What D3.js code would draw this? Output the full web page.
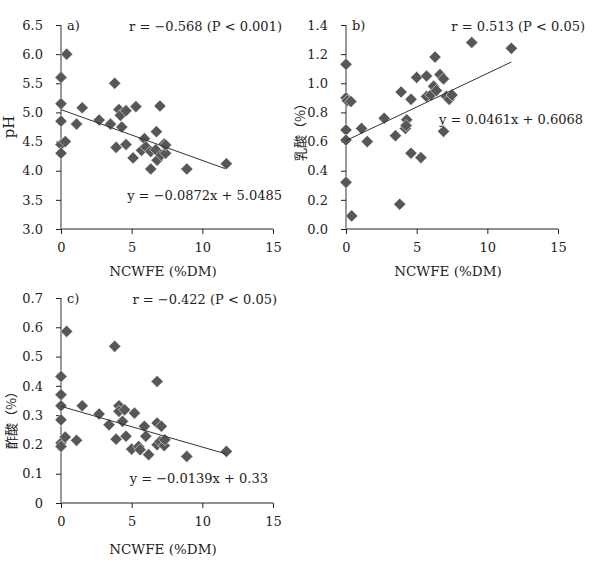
<!DOCTYPE html>
<html><head><meta charset="utf-8">
<script src="https://cdn.jsdelivr.net/npm/d3@7"></script>
<style>body{margin:0;background:#fff}svg{display:block}</style>
</head><body>
<svg id="c" width="594" height="574"></svg>
<script>
const xTicks = [0, 5, 10, 15];
const aTicks = [3.0, 3.5, 4.0, 4.5, 5.0, 5.5, 6.0, 6.5];
const bTicks = [0.0, 0.2, 0.4, 0.6, 0.8, 1.0, 1.2, 1.4];
const cTicks = [0, 0.1, 0.2, 0.3, 0.4, 0.5, 0.6, 0.7];

const aX = [0.4, 0, 0, 0, 0, 0, 0.3, 1.1, 1.5, 2.7, 3.5, 3.8, 3.9, 4.1, 4.2, 4.3, 4.6, 4.6, 5.1, 5.3, 5.9, 5.7, 6.0, 6.35, 6.35, 6.7, 6.75, 7.0, 6.8, 7.1, 7.3, 7.4, 7.4, 8.9, 11.7];
const aY = [6.0, 5.6, 5.15, 4.85, 4.45, 4.3, 4.5, 4.8, 5.08, 4.87, 4.8, 5.5, 4.4, 5.05, 4.95, 4.75, 5.03, 4.45, 4.22, 5.1, 4.55, 4.35, 4.41, 4.33, 4.03, 4.36, 4.67, 5.11, 4.18, 4.27, 4.46, 4.3, 4.44, 4.03, 4.12];

const bX = [0, 0, 0.1, 0.35, 0, 0, 0, 0.4, 1.1, 1.5, 2.7, 3.5, 3.9, 3.8, 4.2, 4.3, 4.25, 4.6, 4.6, 5.0, 5.3, 5.7, 5.7, 6.0, 6.3, 6.2, 6.4, 6.65, 6.9, 6.9, 7.1, 7.3, 7.5, 8.9, 11.7];
const bY = [1.13, 0.9, 0.88, 0.875, 0.68, 0.61, 0.32, 0.09, 0.69, 0.6, 0.76, 0.64, 0.94, 0.17, 0.69, 0.75, 0.71, 0.89, 0.52, 1.04, 0.49, 1.05, 0.91, 0.92, 1.18, 0.98, 0.95, 1.06, 1.03, 0.67, 0.91, 0.89, 0.92, 1.28, 1.24];

const cX = [0.4, 0, 0, 0, 0, 0, 0, 0.3, 1.1, 1.5, 2.7, 3.4, 3.8, 3.9, 4.1, 4.1, 4.35, 4.5, 4.6, 5.2, 5.0, 5.5, 5.6, 5.9, 6.0, 6.2, 6.8, 6.8, 7.1, 6.8, 7.0, 7.3, 7.35, 8.9, 11.7];
const cY = [0.586, 0.432, 0.37, 0.332, 0.284, 0.205, 0.193, 0.225, 0.214, 0.332, 0.304, 0.267, 0.535, 0.218, 0.332, 0.313, 0.279, 0.318, 0.228, 0.307, 0.184, 0.193, 0.182, 0.262, 0.228, 0.165, 0.415, 0.273, 0.262, 0.199, 0.21, 0.196, 0.216, 0.159, 0.176];

const panels = [
  {label:"a)", yTitle:"pH", xs:aX, ys:aY, ticks:aTicks, fmt:d3.format(".1f"), dom:[3,6.5],
   slope:-0.0872, icpt:5.0485, xEnd:11.6, rText:"r = \u22120.568 (P < 0.001)", eqText:"y = \u22120.0872x + 5.0485",
   x0:61, x1:273, yTop:25, yBot:229, rX:282, rY:31, eqX:282, eqY:200, titleX:14, titleY:127, cjk:false, xtOff:47},
  {label:"b)", yTitle:"乳酸（%）", xs:bX, ys:bY, ticks:bTicks, fmt:d3.format(".1f"), dom:[0,1.4],
   slope:0.0461, icpt:0.6068, xEnd:11.7, rText:"r = 0.513 (P < 0.05)", eqText:"y = 0.0461x + 0.6068",
   x0:346, x1:558, yTop:25, yBot:229, rX:585, rY:31, eqX:583, eqY:124, titleX:305, titleY:129, cjk:true, xtOff:47},
  {label:"c)", yTitle:"酢酸（%）", xs:cX, ys:cY, ticks:cTicks, fmt:d => d===0?"0":d3.format(".1f")(d), dom:[0,0.7],
   slope:-0.0139, icpt:0.33, xEnd:11.7, rText:"r = \u22120.422 (P < 0.05)", eqText:"y = \u22120.0139x + 0.33",
   x0:61, x1:273, yTop:298, yBot:503, rX:277, rY:304, eqX:268, eqY:483, titleX:16, titleY:417, cjk:true, xtOff:51}
];

const svg = d3.select("#c");
const serif = "'DejaVu Serif', serif";
const diamond = d3.symbol().type(d3.symbolSquare).size(74);

panels.forEach(p => {
  const x = d3.scaleLinear().domain([0,15]).range([p.x0, p.x1]);
  const y = d3.scaleLinear().domain(p.dom).range([p.yBot, p.yTop]);
  const g = svg.append("g");

  const xa = g.append("g").attr("transform", `translate(0,${p.yBot})`)
    .call(d3.axisBottom(x).tickValues(xTicks).tickSize(5).tickPadding(9).tickFormat(d3.format("d")));
  xa.select(".domain").attr("stroke","#222").attr("stroke-width",1).attr("d", `M${p.x0},0H${p.x1}`);
  xa.selectAll(".tick line").attr("stroke","#222");
  xa.selectAll("text").attr("font-family", serif).attr("font-size", 13).attr("fill","#222");

  const ya = g.append("g").attr("transform", `translate(${p.x0},0)`)
    .call(d3.axisLeft(y).tickValues(p.ticks).tickSize(5).tickPadding(13).tickFormat(p.fmt));
  ya.select(".domain").attr("stroke","#999").attr("stroke-width",2).attr("d", `M0,${p.yBot}V${p.yTop}`);
  ya.selectAll(".tick line").attr("stroke","#222");
  ya.selectAll("text").attr("font-family", serif).attr("font-size", 13).attr("fill","#222");

  g.append("text").attr("x", (p.x0 + p.x1)/2 - 4).attr("y", p.yBot + p.xtOff)
    .attr("text-anchor","middle").attr("font-family", serif).attr("font-size", 13.5).attr("fill","#222")
    .text("NCWFE (%DM)");

  g.append("text").attr("transform", `translate(${p.titleX},${p.titleY}) rotate(-90)`)
    .attr("text-anchor","middle")
    .attr("font-family", p.cjk ? "'Noto Sans CJK JP', sans-serif" : serif)
    .attr("font-size", p.cjk ? 13 : 15).attr("fill","#222")
    .text(p.yTitle);

  g.selectAll("path.pt").data(p.xs.map((v,i)=>[v,p.ys[i]])).join("path").attr("class","pt")
    .attr("d", diamond)
    .attr("transform", d => `translate(${x(d[0])},${y(d[1])}) rotate(45)`)
    .attr("fill","#575757").attr("stroke","#fff").attr("stroke-width",0.5);

  g.append("line").attr("x1", x(0)).attr("y1", y(p.icpt))
    .attr("x2", x(p.xEnd)).attr("y2", y(p.icpt + p.slope*p.xEnd))
    .attr("stroke","#333").attr("stroke-width",1);

  g.append("text").attr("x", p.x0 + 6).attr("y", p.yTop + 5).attr("font-family", serif).attr("font-size", 13).attr("fill","#222").text(p.label);
  g.append("text").attr("x", p.rX).attr("y", p.rY).attr("text-anchor","end").attr("font-family", serif).attr("font-size", 13).attr("fill","#222").text(p.rText);
  g.append("text").attr("x", p.eqX).attr("y", p.eqY).attr("text-anchor","end").attr("font-family", serif).attr("font-size", 13).attr("fill","#222").text(p.eqText);
});
</script>
</body></html>
